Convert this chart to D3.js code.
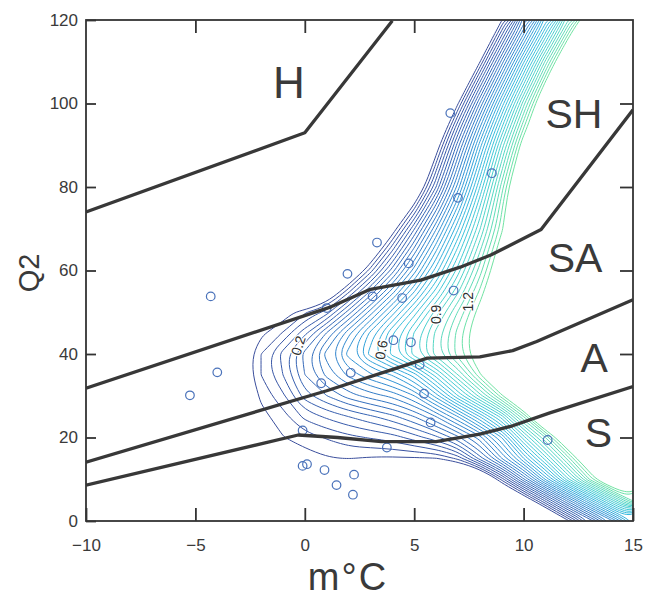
<!DOCTYPE html>
<html>
<head>
<meta charset="utf-8" />
<script src="https://cdn.jsdelivr.net/npm/d3@7"></script>
<style>
body { margin: 0; background: #ffffff; }
svg text { font-family: "Liberation Sans", Arial, sans-serif; fill: #3a3a3a; }
.tick line { stroke: #333; stroke-width: 1.8; }
.tick text { font-size: 17px; fill: #3a3a3a; }
.clabel { font-size: 14px; fill: #2e2e2e; stroke: #fff; stroke-width: 2.5px; paint-order: stroke; }
</style>
</head>
<body>
<svg id="chart" width="645" height="599"></svg>
<script>
var w = 645, h = 599;

var xTicks = [-10, -5, 0, 5, 10, 15];
var yTicks = [0, 20, 40, 60, 80, 100, 120];

// contour field, in contour steps (0.5 = outermost line, 29.5 = last green line)
// each row: [y, first x with a value, values from that x on]; left of it -6, right of it 35
var gridX = [-10, -9, -8, -7, -6, -5, -4, -3, -2, -1, 0, 1, 2, 3, 4, 5, 6, 7, 8, 9, 10, 11, 12, 13, 14, 15];
var gridY = [0, 5, 10, 15, 20, 25, 30, 35, 40, 45, 50, 55, 60, 65, 70, 75, 80, 85, 90, 95, 100, 105, 110, 115, 120];
var fieldRows = [
  [0,   12, [0, 5.5, 11, 16.5]],
  [5,   10, [-1.8, 4, 10, 16, 22, 28]],
  [10,   8, [-4.5, 1.9, 8.3, 14.7, 21.1, 27.5, 33.9]],
  [15,   0, [0, 0.4, 0.55, 0.35, 0.3, 0.35, 0.45, 1.8, 6, 10.5, 15.5, 21, 26.8, 33]],
  [20,  -3, [-0.6, -0.05, 0.45, 1.0, 1.6, 2.2, 2.6, 3.0, 4.0, 5.2, 7.2, 10, 14.5, 21, 26.5, 33]],
  [25,  -3, [-0.8, 0.13, 1.05, 2.8, 3.7, 4.5, 5.3, 6.2, 7.5, 9.5, 12.5, 16.5, 21, 27.5]],
  [30,  -3, [-1.6, 0.75, 2.3, 5, 6.5, 8, 9, 9.8, 11.5, 15, 19.5, 24, 29.2]],
  [35,  -3, [-1.1, 1.5, 3.5, 6.5, 8.8, 10.8, 12.3, 13.6, 16, 20, 24.5, 29.3]],
  [40,  -3, [-1.1, 1.5, 3.9, 6.9, 9.9, 12.9, 15.9, 18.9, 22, 25, 28, 31]],
  [45,  -3, [-1.2, 0.2, 1.6, 4.2, 7.6, 11.2, 14.8, 18.4, 21.6, 24.8, 27.9, 31.1]],
  [50,  -1, [-0.33, 1.33, 3.0, 7.0, 11.0, 15, 19, 23, 26.6, 30.2]],
  [55,   1, [-2.2, 2.2, 6.6, 11, 15.4, 19.9, 24.3, 28.7, 33]],
  [60,   2, [-3, 2, 7, 12, 17, 22, 27, 32]],
  [65,   3, [-2.2, 3.3, 8.8, 14.3, 19.8, 25.3, 30.8]],
  [70,   4, [-0.6, 5.4, 11.4, 17.4, 23.4, 29.2]],
  [75,   4, [-5.4, 1.3, 8.1, 14.8, 21.6, 28.3]],
  [80,   5, [-3, 4.5, 12, 19.5, 27, 34.5]],
  [85,   5, [-5.8, 1.9, 9.6, 17.3, 25, 32.7]],
  [90,   6, [-0.8, 7.1, 15, 22.9, 30.8]],
  [95,   6, [-4, 4.0, 12, 20, 28]],
  [100,  6, [-7.8, 0.4, 8.6, 16.8, 25.1, 33.3]],
  [105,  7, [-3.7, 4.6, 12.9, 21.2, 29.7]],
  [110,  7, [-8, 0.4, 8.9, 17.3, 25.8, 34.2]],
  [115,  8, [-3.7, 4.6, 12.9, 21.2, 29.7]],
  [120,  8, [-7.9, 0.4, 8.6, 16.8, 25.1, 33.3]]
];
var levels = d3.range(0.5, 30, 1);

// contour labels
var labelText = ["0.2", "0.6", "0.9", "1.2"];
var labelX = [-0.3, 3.5, 6.0, 7.45];
var labelY = [42.0, 41.0, 49.5, 52.5];
var labelRot = [-72, -80, -90, -90];

// observations
var pointX = [-4.3, -4.0, -5.25, -0.1, -0.1, 0.1, 0.9, 2.25, 1.45, 2.2, 0.75, 2.1, 3.75, 5.45, 5.75, 5.25, 4.05, 4.85, 11.1, 3.3, 1.95, 4.75, 3.1, 4.45, 6.8, 1.0, 6.65, 8.55, 7.0];
var pointY = [53.8, 35.6, 30.1, 21.7, 13.2, 13.6, 12.2, 11.1, 8.6, 6.3, 33.0, 35.5, 17.6, 30.5, 23.6, 37.4, 43.3, 42.8, 19.4, 66.7, 59.2, 61.7, 53.8, 53.4, 55.2, 51.0, 97.7, 83.3, 77.4];

// class boundaries
var lineH  = [[-10, 74.0], [0, 93.0], [4.0, 119.8]];
var lineSH = [[-10, 31.8], [1.2, 51.3], [3.0, 55.5], [5.3, 57.7], [7.1, 60.8], [8.5, 63.7], [10.8, 69.8], [15, 98.5]];
var lineSA = [[-10, 14.1], [1.0, 31.2], [4.2, 36.6], [5.6, 39.0], [8.0, 39.3], [9.5, 40.8], [10.6, 43.0], [15, 53.0]];
var lineA  = [[-10, 8.6], [-0.3, 20.6], [1.5, 20.0], [3.5, 19.0], [6.0, 19.0], [8.0, 20.8], [9.5, 22.8], [11.2, 25.9], [15, 32.2]];
var boundaries = [lineH, lineSH, lineSA, lineA];

var regionText = ["H", "SH", "SA", "A", "S"];
var regionX = [-1.45, 11.0, 11.1, 12.6, 12.8];
var regionY = [101.3, 94.1, 59.6, 35.7, 17.7];

var x = d3.scaleLinear().domain([-10, 15]).range([86, 633]);
var y = d3.scaleLinear().domain([0, 120]).range([521, 20]);

var svg = d3.select("#chart");

svg.append("clipPath").attr("id", "plot").append("rect")
  .attr("x", x(-10)).attr("y", y(120))
  .attr("width", x(15) - x(-10)).attr("height", y(0) - y(120));

// build the grid d3.contours wants
var nx = gridX.length, ny = gridY.length;
var values = [];
fieldRows.forEach(function(r) {
  gridX.forEach(function(gx) {
    var k = gx - r[1];
    values.push(k < 0 ? -6 : (k < r[2].length ? r[2][k] : 35));
  });
});

var contours = d3.contours().size([nx, ny]).thresholds(levels)(values);

var gxs = d3.scaleLinear().domain([0.5, nx - 0.5]).range([x(gridX[0]), x(gridX[nx - 1])]);
var gys = d3.scaleLinear().domain([0.5, ny - 0.5]).range([y(gridY[0]), y(gridY[ny - 1])]);
var color = d3.interpolateRgbBasis(["#3a4e9c", "#3565b8", "#318fd6", "#33bde3", "#4fd6cc", "#70e3a2"]);

var ring = d3.line()
  .x(function(d) { return gxs(d[0]); })
  .y(function(d) { return gys(d[1]); })
  .curve(d3.curveBasisClosed);

var cg = svg.append("g").attr("clip-path", "url(#plot)");
contours.forEach(function(c, i) {
  c.coordinates.forEach(function(poly) {
    poly.forEach(function(r) {
      cg.append("path")
        .attr("d", ring(r.slice(0, -1)))
        .attr("fill", "none")
        .attr("stroke", color(i / (levels.length - 1)))
        .attr("stroke-width", 1);
    });
  });
});

// points
svg.append("g").selectAll("circle")
  .data(pointX).enter().append("circle")
  .attr("cx", function(d) { return x(d); })
  .attr("cy", function(d, i) { return y(pointY[i]); })
  .attr("r", 4.3)
  .attr("fill", "none")
  .attr("stroke", "#4a72ba")
  .attr("stroke-width", 1.2);

// contour labels
svg.append("g").selectAll("text")
  .data(labelText).enter().append("text")
  .attr("class", "clabel")
  .attr("text-anchor", "middle")
  .attr("dy", "0.35em")
  .attr("transform", function(d, i) {
    return "translate(" + x(labelX[i]) + "," + y(labelY[i]) + ") rotate(" + labelRot[i] + ")";
  })
  .text(function(d) { return d; });

// boundary lines
var bline = d3.line()
  .x(function(d) { return x(d[0]); })
  .y(function(d) { return y(d[1]); });

svg.append("g").attr("clip-path", "url(#plot)").selectAll("path")
  .data(boundaries).enter().append("path")
  .attr("d", bline)
  .attr("fill", "none")
  .attr("stroke", "#383838")
  .attr("stroke-width", 3.3)
  .attr("stroke-linejoin", "round");

// axes, ticks pointing inwards
var gb = svg.append("g").attr("transform", "translate(0," + y(0) + ")")
  .call(d3.axisBottom(x).tickValues(xTicks).tickSize(-13).tickPadding(24));
var gl = svg.append("g").attr("transform", "translate(" + x(-10) + ",0)")
  .call(d3.axisLeft(y).tickValues(yTicks).tickSize(-10).tickPadding(8));
var gt = svg.append("g").attr("transform", "translate(0," + y(120) + ")")
  .call(d3.axisTop(x).tickValues([-5, 0, 5, 10]).tickSize(-13).tickFormat(""));
var gr = svg.append("g").attr("transform", "translate(" + x(15) + ",0)")
  .call(d3.axisRight(y).tickValues([20, 40, 60, 80, 100]).tickSize(-13).tickFormat(""));
[gb, gl, gt, gr].forEach(function(g) { g.select(".domain").remove(); });
gb.selectAll(".tick text").attr("dy", "0.35em");
gl.selectAll(".tick text").attr("font-family", null);
gb.selectAll(".tick text").attr("font-family", null);

svg.append("rect")
  .attr("x", x(-10)).attr("y", y(120))
  .attr("width", x(15) - x(-10)).attr("height", y(0) - y(120))
  .attr("fill", "none").attr("stroke", "#333").attr("stroke-width", 1.8);

// region names
svg.append("g").selectAll("text")
  .data(regionText).enter().append("text")
  .attr("x", function(d, i) { return x(regionX[i]); })
  .attr("y", function(d, i) { return y(regionY[i]); })
  .style("font-size", function(d) { return d === "H" ? "44px" : "41px"; })
  .text(function(d) { return d; });

// axis titles
svg.append("text")
  .attr("x", 348).attr("y", 590)
  .attr("text-anchor", "middle")
  .style("font-size", "38px")
  .style("letter-spacing", "2px")
  .text("m°C");

svg.append("text")
  .attr("transform", "translate(39,273) rotate(-90)")
  .attr("text-anchor", "middle")
  .style("font-size", "29px")
  .text("Q2");
</script>
</body>
</html>
